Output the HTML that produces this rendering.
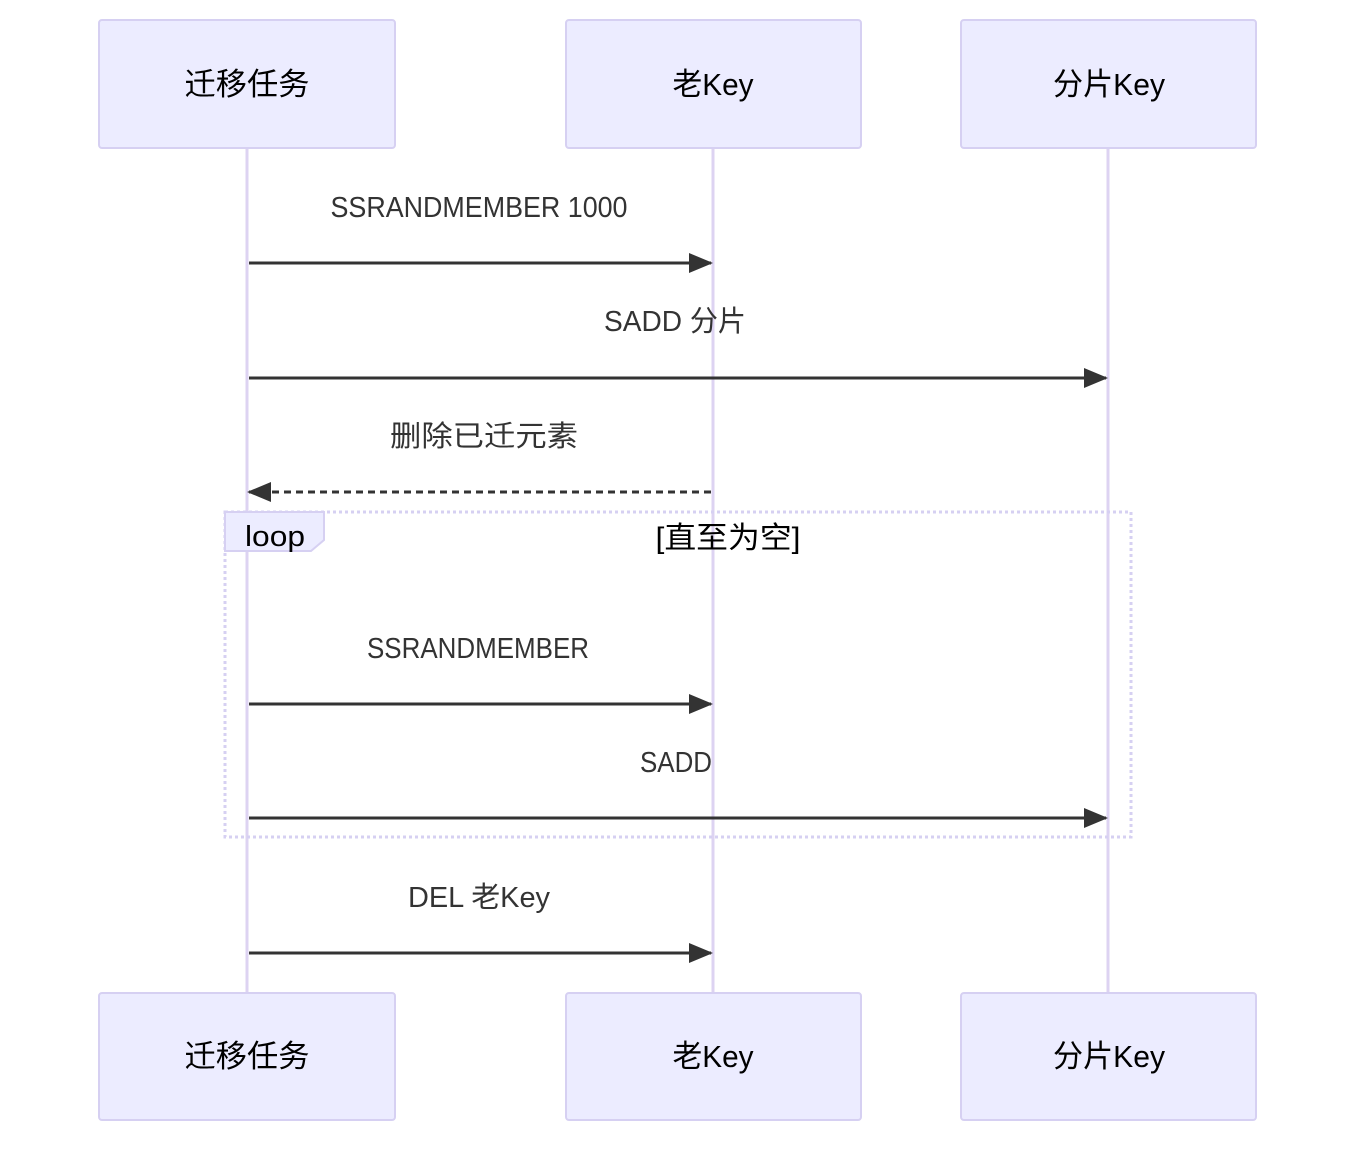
<!DOCTYPE html>
<html><head><meta charset="utf-8"><style>
html,body{margin:0;padding:0;background:#fff;}
text{font-family:"Liberation Sans","Noto Sans CJK SC",sans-serif;fill:#333;}
</style></head><body>
<svg width="1372" height="1156" viewBox="0 0 1372 1156" xmlns="http://www.w3.org/2000/svg">
<defs>
<marker id="ah2" viewBox="0 0 24 20" markerWidth="24" markerHeight="20" refX="22" refY="10" orient="auto" markerUnits="userSpaceOnUse">
<path d="M0,0 L24,10 L0,20 z" fill="#333"/></marker>
</defs>
<g stroke="#ddd3f2" stroke-width="3">
<line x1="247" y1="148" x2="247" y2="993"/>
<line x1="713" y1="148" x2="713" y2="993"/>
<line x1="1108" y1="148" x2="1108" y2="993"/>
</g>
<g fill="#ececff" stroke="#d6d0f2" stroke-width="2">
<rect x="99" y="20" width="296" height="128" rx="3"/>
<rect x="566" y="20" width="295" height="128" rx="3"/>
<rect x="961" y="20" width="295" height="128" rx="3"/>
<rect x="99" y="993" width="296" height="127" rx="3"/>
<rect x="566" y="993" width="295" height="127" rx="3"/>
<rect x="961" y="993" width="295" height="127" rx="3"/>
</g>
<g font-size="31" text-anchor="middle">
<text x="247" y="95" style="fill:#000" textLength="125" lengthAdjust="spacingAndGlyphs">迁移任务</text>
<text x="713" y="95" style="fill:#000" textLength="81" lengthAdjust="spacingAndGlyphs">老Key</text>
<text x="1109" y="95" style="fill:#000" textLength="112" lengthAdjust="spacingAndGlyphs">分片Key</text>
<text x="247" y="1067" style="fill:#000" textLength="125" lengthAdjust="spacingAndGlyphs">迁移任务</text>
<text x="713" y="1067" style="fill:#000" textLength="81" lengthAdjust="spacingAndGlyphs">老Key</text>
<text x="1109" y="1067" style="fill:#000" textLength="112" lengthAdjust="spacingAndGlyphs">分片Key</text>
</g>
<rect x="225" y="512" width="906" height="325" fill="none" stroke="#d6d0f2" stroke-width="3" stroke-dasharray="3,3"/>
<path d="M225,512 L324,512 L324,540 L311,551 L225,551 z" fill="#ececff" stroke="#d6d0f2" stroke-width="2"/>
<text x="275" y="546" font-size="29" text-anchor="middle" style="fill:#000" textLength="60" lengthAdjust="spacingAndGlyphs">loop</text>
<text x="728" y="548" font-size="30" text-anchor="middle" style="fill:#000" textLength="145" lengthAdjust="spacingAndGlyphs">[直至为空]</text>
<g stroke="#333" stroke-width="3" fill="none">
<line x1="249" y1="263" x2="711" y2="263" marker-end="url(#ah2)"/>
<line x1="249" y1="378" x2="1106" y2="378" marker-end="url(#ah2)"/>
<line x1="711" y1="492" x2="249" y2="492" stroke-dasharray="7,5" marker-end="url(#ah2)"/>
<line x1="249" y1="704" x2="711" y2="704" marker-end="url(#ah2)"/>
<line x1="249" y1="818" x2="1106" y2="818" marker-end="url(#ah2)"/>
<line x1="249" y1="953" x2="711" y2="953" marker-end="url(#ah2)"/>
</g>
<g font-size="29" text-anchor="middle">
<text x="479" y="217" textLength="297" lengthAdjust="spacingAndGlyphs">SSRANDMEMBER 1000</text>
<text x="675" y="331" textLength="142" lengthAdjust="spacingAndGlyphs">SADD 分片</text>
<text x="484" y="446" textLength="188" lengthAdjust="spacingAndGlyphs">删除已迁元素</text>
<text x="478" y="658" textLength="222" lengthAdjust="spacingAndGlyphs">SSRANDMEMBER</text>
<text x="676" y="772" textLength="72" lengthAdjust="spacingAndGlyphs">SADD</text>
<text x="479" y="907" textLength="142" lengthAdjust="spacingAndGlyphs">DEL 老Key</text>
</g>
</svg>
</body></html>
